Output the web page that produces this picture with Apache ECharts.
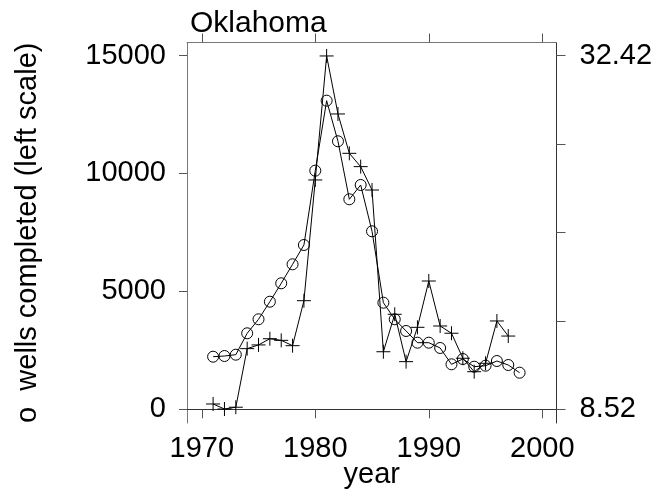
<!DOCTYPE html>
<html>
<head>
<meta charset="utf-8">
<script src="https://cdn.jsdelivr.net/npm/echarts@6/dist/echarts.min.js"></script>
<style>html,body{margin:0;padding:0;background:#fff}#c{width:664px;height:495px}</style>
</head>
<body>
<div id="c"></div>
<script>
var title = "Oklahoma";
var yNameLeft = "o  wells completed (left scale)";
var xName = "year";
var circleYears = [1971,1972,1973,1974,1975,1976,1977,1978,1979,1980,1981,1982,1983,1984,1985,1986,1987,1988,1989,1990,1991,1992,1993,1994,1995,1996,1997,1998];
var wellsCompleted = [2231,2260,2316,3223,3817,4563,5344,6149,6968,10119,13088,11366,8906,9512,7549,4521,3817,3321,2825,2825,2600,1908,2133,1807,1849,2048,1879,1552];
var plusYears = [1971,1972,1973,1974,1975,1976,1977,1978,1979,1980,1981,1982,1983,1984,1985,1986,1987,1988,1989,1990,1991,1992,1993,1994,1995,1996,1997];
var rightValues = [8.88,8.54,8.66,12.62,12.87,13.29,13.18,12.82,15.86,24.02,32.40,28.48,25.82,24.92,23.34,12.41,14.94,11.74,14.06,17.19,14.15,13.66,11.97,11.06,11.63,14.49,13.47];
var xTicks = [1970,1980,1990,2000];
var leftTicks = [0,5000,10000,15000];
var rightTicks = [8.52,14.495,20.47,26.445,32.42];
var rightLabels = [8.52,32.42];

var font = "Liberation Sans, Arial, Helvetica, sans-serif";
var chart = echarts.init(document.getElementById('c'));
function pairs(xs, ys){ return xs.map(function(x,i){ return [x, ys[i]]; }); }
function plain(v){ return String(v); }
var axisBase = function(color){ return {show:true, lineStyle:{color:color, width:1}}; };
chart.setOption({
  animation:false,
  title:{text:title, left:185, top:4, textStyle:{fontFamily:font, fontSize:30, fontWeight:'normal', color:'#000'}},
  grid:{left:187, top:42.5, right:107.5, bottom:72, containLabel:false, outerBoundsMode:'none'},
  xAxis:[
    {type:'value', position:'bottom', min:1968.7, max:2001.25,
     name:xName, nameLocation:'middle', nameGap:37, nameMoveOverlap:false,
     nameTextStyle:{fontFamily:font, fontSize:29, color:'#000'},
     axisLine:axisBase('#333'), splitLine:{show:false},
     axisTick:{show:true, inside:false, length:9, customValues:xTicks, lineStyle:{color:'#555'}},
     axisLabel:{show:true, customValues:xTicks, margin:11, fontFamily:font, fontSize:29, color:'#000', formatter:plain}},
    {type:'value', position:'top', min:1968.7, max:2001.25,
     axisLine:axisBase('#777'), splitLine:{show:false},
     axisTick:{show:true, inside:false, length:9, customValues:xTicks, lineStyle:{color:'#555'}},
     axisLabel:{show:false}}
  ],
  yAxis:[
    {type:'value', position:'left', min:-581, max:15555,
     name:yNameLeft, nameLocation:'middle', nameGap:145, nameRotate:90, nameMoveOverlap:false,
     nameTextStyle:{fontFamily:font, fontSize:29, color:'#000'},
     axisLine:axisBase('#777'), splitLine:{show:false},
     axisTick:{show:true, inside:false, length:8, customValues:leftTicks, lineStyle:{color:'#555'}},
     axisLabel:{show:true, customValues:leftTicks, margin:21, fontFamily:font, fontSize:29, color:'#000', formatter:plain}},
    {type:'value', position:'right', min:7.594, max:33.31,
     axisLine:axisBase('#333'), splitLine:{show:false},
     axisTick:{show:true, inside:false, length:9, customValues:rightTicks, lineStyle:{color:'#555'}},
     axisLabel:{show:true, customValues:rightLabels, margin:23, fontFamily:font, fontSize:29, color:'#000', formatter:plain}}
  ],
  series:[
    {type:'line', xAxisIndex:0, yAxisIndex:0, data:pairs(circleYears, wellsCompleted),
     symbol:'circle', symbolSize:11, showAllSymbol:true,
     lineStyle:{color:'#000', width:1},
     itemStyle:{color:'rgba(0,0,0,0)', borderColor:'#000', borderWidth:1}},
    {type:'line', xAxisIndex:0, yAxisIndex:1, data:pairs(plusYears, rightValues),
     symbol:'path://M0,5L10,5M5,0L5,10', symbolSize:14, symbolKeepAspect:true, showAllSymbol:true,
     lineStyle:{color:'#000', width:1},
     itemStyle:{color:'none', borderColor:'#000', borderWidth:1}}
  ]
});
</script>
</body>
</html>
